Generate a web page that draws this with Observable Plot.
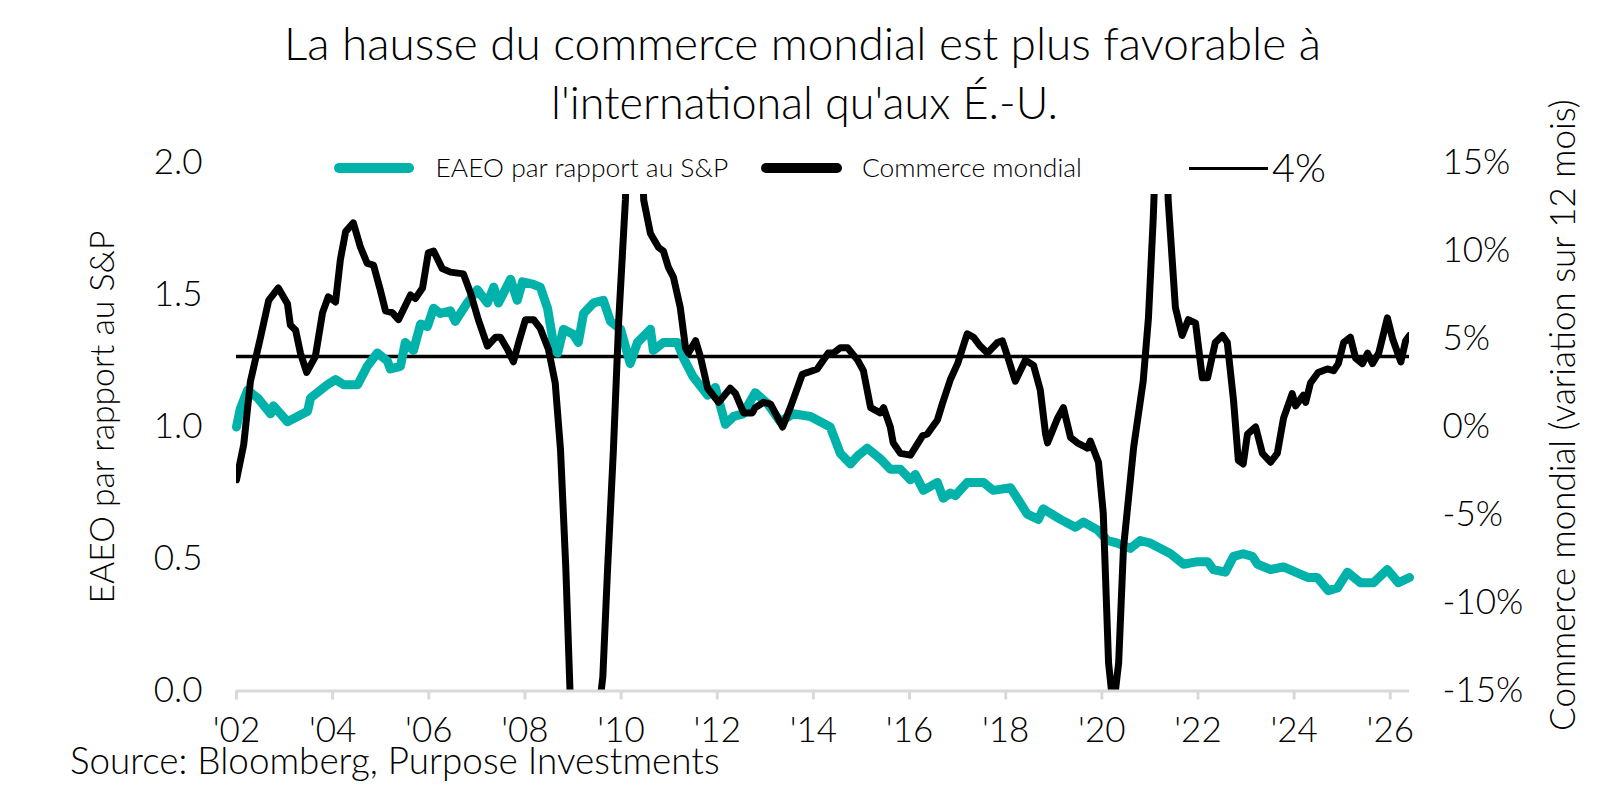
<!DOCTYPE html>
<html><head><meta charset="utf-8">
<script src="https://cdn.jsdelivr.net/npm/d3@7"></script>
<script src="https://cdn.jsdelivr.net/npm/@observablehq/plot@0.6"></script>
<style>
html,body{margin:0;padding:0;background:#fff;overflow:hidden;}
#wrap{position:relative;width:1603px;height:789px;overflow:hidden;font-family:Lato,"Open Sans",sans-serif;font-weight:300;color:#000;}
#wrap svg{position:absolute;left:0;top:0;}
#wrap svg text{font-weight:300;}
.t{position:absolute;white-space:nowrap;line-height:1;font-weight:300;color:#000;}
.sw{position:absolute;}
</style></head><body><div id="wrap"></div>
<script>
// ---------- data ----------
const titleLines = ["La hausse du commerce mondial est plus favorable à", "l'international qu'aux É.-U."];
const legendLabels = ["EAEO par rapport au S&P", "Commerce mondial", "4%"];
const leftAxisLabel = "EAEO par rapport au S&P";
const rightAxisLabel = "Commerce mondial (variation sur 12 mois)";
const sourceText = "Source: Bloomberg, Purpose Investments";

const xTicks = [2002,2004,2006,2008,2010,2012,2014,2016,2018,2020,2022,2024,2026];
const leftTicks = [0, 0.5, 1.0, 1.5, 2.0];
const rightTicks = [-15, -10, -5, 0, 5, 10, 15];
const thresholdPct = 4;

const eaeoYears = [2002.00,2002.08,2002.23,2002.44,2002.71,2002.77,2003.06,2003.48,2003.54,2003.75,2003.89,2004.06,2004.23,2004.52,2004.72,2004.93,2005.14,2005.20,2005.41,2005.51,2005.68,2005.83,2005.97,2006.10,2006.24,2006.45,2006.55,2006.80,2007.01,2007.22,2007.35,2007.45,2007.70,2007.84,2007.95,2008.18,2008.32,2008.47,2008.59,2008.68,2008.80,2009.01,2009.11,2009.22,2009.43,2009.63,2009.78,2009.99,2010.19,2010.34,2010.61,2010.67,2010.88,2011.17,2011.30,2011.50,2011.80,2011.96,2012.17,2012.34,2012.54,2012.79,2013.04,2013.31,2013.58,2013.94,2014.35,2014.56,2014.77,2014.92,2015.12,2015.39,2015.60,2015.81,2016.02,2016.12,2016.29,2016.58,2016.70,2016.85,2016.95,2017.20,2017.54,2017.74,2018.10,2018.24,2018.45,2018.68,2018.78,2019.14,2019.45,2019.62,2019.91,2020.12,2020.32,2020.59,2020.80,2021.01,2021.22,2021.43,2021.70,2021.99,2022.20,2022.32,2022.57,2022.74,2022.94,2023.13,2023.24,2023.51,2023.78,2024.03,2024.28,2024.48,2024.71,2024.90,2025.11,2025.38,2025.65,2025.94,2026.17,2026.40];
const eaeoValues = [1.00,1.07,1.14,1.11,1.05,1.08,1.02,1.06,1.11,1.14,1.16,1.18,1.16,1.16,1.23,1.28,1.25,1.22,1.23,1.32,1.29,1.39,1.38,1.45,1.43,1.44,1.40,1.47,1.52,1.47,1.53,1.47,1.56,1.48,1.55,1.54,1.53,1.45,1.32,1.28,1.37,1.35,1.32,1.43,1.47,1.48,1.40,1.37,1.24,1.32,1.37,1.29,1.32,1.32,1.26,1.19,1.12,1.15,1.01,1.04,1.05,1.13,1.09,1.02,1.05,1.04,1.00,0.90,0.86,0.89,0.92,0.88,0.84,0.84,0.80,0.82,0.76,0.79,0.73,0.75,0.74,0.79,0.79,0.76,0.77,0.73,0.67,0.65,0.69,0.65,0.62,0.64,0.61,0.57,0.56,0.54,0.57,0.56,0.54,0.52,0.48,0.49,0.49,0.46,0.45,0.51,0.52,0.51,0.48,0.46,0.47,0.45,0.43,0.43,0.38,0.39,0.45,0.41,0.41,0.46,0.41,0.43];

const tradeYears = [2002.00,2002.15,2002.29,2002.50,2002.67,2002.87,2003.06,2003.12,2003.23,2003.33,2003.46,2003.64,2003.79,2003.91,2004.06,2004.16,2004.27,2004.43,2004.58,2004.72,2004.85,2004.99,2005.10,2005.24,2005.37,2005.62,2005.72,2005.87,2005.99,2006.10,2006.28,2006.45,2006.72,2006.87,2007.03,2007.22,2007.39,2007.49,2007.64,2007.76,2007.87,2008.01,2008.18,2008.32,2008.49,2008.63,2008.74,2008.85,2008.95,2009.10,2009.30,2009.50,2009.62,2009.72,2009.84,2009.95,2010.09,2010.17,2010.30,2010.42,2010.47,2010.61,2010.78,2010.88,2010.98,2011.09,2011.23,2011.34,2011.40,2011.55,2011.65,2011.80,2012.03,2012.27,2012.38,2012.55,2012.73,2012.79,2012.96,2013.11,2013.36,2013.52,2013.77,2013.88,2014.08,2014.31,2014.42,2014.56,2014.71,2014.92,2015.04,2015.19,2015.39,2015.46,2015.60,2015.66,2015.81,2016.02,2016.27,2016.37,2016.58,2016.68,2016.85,2017.00,2017.20,2017.33,2017.47,2017.62,2017.83,2017.93,2018.04,2018.20,2018.41,2018.58,2018.72,2018.83,2018.87,2019.08,2019.20,2019.35,2019.49,2019.70,2019.76,2019.93,2020.03,2020.14,2020.24,2020.35,2020.45,2020.66,2020.86,2020.97,2021.07,2021.18,2021.25,2021.32,2021.38,2021.53,2021.67,2021.80,2021.95,2022.09,2022.20,2022.36,2022.51,2022.61,2022.74,2022.84,2022.94,2023.03,2023.20,2023.34,2023.51,2023.65,2023.78,2023.96,2024.03,2024.19,2024.24,2024.34,2024.50,2024.69,2024.82,2024.92,2025.03,2025.17,2025.28,2025.42,2025.53,2025.63,2025.76,2025.94,2026.05,2026.22,2026.32,2026.40];
const tradePct = [-3.0,-1.0,2.6,5.1,7.2,7.9,7.0,5.8,5.5,4.2,3.1,4.0,6.5,7.4,7.1,9.5,11.1,11.6,10.2,9.3,9.2,7.8,6.6,6.5,6.1,7.5,7.3,7.9,9.9,10.0,9.0,8.8,8.7,7.6,6.1,4.6,5.1,5.1,4.4,3.7,4.8,6.1,6.1,5.6,4.4,2.5,-1.3,-8.0,-16.0,-21.0,-22.0,-17.0,-14.2,-8.0,-1.3,6.0,12.9,20.0,23.0,18.0,12.9,11.0,10.2,10.0,9.1,8.5,6.8,4.5,4.2,4.9,4.0,2.2,1.4,2.2,1.9,0.8,0.8,1.1,1.4,1.3,0.0,1.1,3.0,3.1,3.3,4.2,4.2,4.5,4.5,3.8,3.2,1.1,0.8,1.1,0.0,-0.9,-1.5,-1.6,-0.5,-0.4,0.4,1.3,2.7,3.6,5.3,5.1,4.6,4.2,4.8,4.9,4.0,2.6,3.8,3.5,2.1,-0.4,-0.9,0.5,1.1,-0.6,-0.9,-1.2,-0.8,-2.0,-4.9,-13.4,-16.0,-13.4,-6.9,-1.2,2.6,6.2,11.9,20.0,26.0,20.0,12.9,6.8,5.2,6.1,5.9,2.8,2.8,4.8,5.2,4.8,1.5,-1.9,-2.1,-0.4,0.0,-1.5,-2.0,-1.5,0.5,1.9,1.2,1.8,1.4,2.5,3.1,3.3,3.2,3.6,4.8,5.1,3.9,3.6,4.2,3.6,4.2,6.2,5.0,3.7,4.9,5.2];

// ---------- build ----------
const pctToLeft = p => (p + 15) / 15;           // right axis (-15..15 %) mapped onto left axis (0..2)
const leftToPct = v => Math.round(v * 15 - 15);

const eaeo = eaeoYears.map((x, i) => ({x, y: eaeoValues[i]}));
const trade = tradeYears.map((x, i) => ({x, y: pctToLeft(tradePct[i])}));

const W = 1603, H = 789;
const M = {top: 162.5, bottom: 98.5, left: 236, right: 194};
const FONT = 35;
const TEAL = "#00b2a9";

const chart = Plot.plot({
  width: W, height: H,
  marginTop: M.top, marginBottom: M.bottom, marginLeft: M.left, marginRight: M.right,
  style: {fontFamily: "Lato, 'Open Sans', sans-serif", fontSize: FONT + "px", background: "transparent", color: "#000"},
  x: {domain: [2002, 2026.4]},
  y: {domain: [0, 2]},
  marks: [
    Plot.ruleY([pctToLeft(thresholdPct)], {stroke: "#000", strokeWidth: 3.5}),
    Plot.line(eaeo, {x: "x", y: "y", stroke: TEAL, strokeWidth: 9, strokeLinejoin: "round", strokeLinecap: "round"}),
    Plot.line(trade, {x: "x", y: "y", stroke: "#000", strokeWidth: 7, strokeLinejoin: "round", clip: true}),
    Plot.ruleY([0], {stroke: "#d9d9d9", strokeWidth: 3}),
    Plot.axisX({ticks: xTicks, tickSize: 9, stroke: "#d9d9d9", strokeWidth: 3, tickFormat: () => "", label: null}),
    Plot.axisX({ticks: xTicks, tickSize: 0, tickPadding: 26.5, fontSize: FONT, fill: "#000",
      tickFormat: d => "'" + String(d % 100).padStart(2, "0"), label: null}),
    Plot.axisY({ticks: leftTicks, tickSize: 0, tickPadding: 34, fontSize: FONT, fill: "#000",
      tickFormat: d3.format(".1f"), label: null}),
    Plot.axisY({anchor: "right", ticks: rightTicks.map(pctToLeft), tickSize: 0, tickPadding: 33, fontSize: FONT, fill: "#000",
      tickFormat: v => leftToPct(v) + "%", label: null}),
    Plot.text([leftAxisLabel], {frameAnchor: "left", textAnchor: "middle", lineAnchor: "middle", rotate: -90,
      dx: 103 - M.left, dy: -10, fontSize: 36, fill: "#000", className: "ylab-left"}),
    Plot.text([rightAxisLabel], {frameAnchor: "right", textAnchor: "middle", lineAnchor: "middle", rotate: -90,
      dx: 1563 - (W - M.right), dy: -12, fontSize: 36, fill: "#000", className: "ylab-right"})
  ]
});

const wrap = document.getElementById("wrap");
wrap.appendChild(chart);

// ---------- HTML title / legend / source ----------
const layout = [
  {text: titleLines[0], size: 48, w: 1037, cx: 802.5, cy: 44},
  {text: titleLines[1], size: 48, w: 507, cx: 804.5, cy: 104},
  {text: legendLabels[0], size: 26, w: 293, left: 435.5, cy: 168},
  {text: legendLabels[1], size: 26, w: 220, left: 862, cy: 168},
  {text: legendLabels[2], size: 35, w: 54, left: 1272, cy: 168},
  {text: sourceText, size: 32, w: 650, left: 70, cy: 761}
];
// white legend box (covers the clipped spikes, as in the original)
const legendBox = {x1: 318, x2: 1345, y1: 143, y2: 194};
const swatches = [
  {x1: 334, x2: 414, cy: 168, h: 10, color: TEAL, r: 5},
  {x1: 761, x2: 842, cy: 168, h: 10, color: "#000", r: 5},
  {x1: 1189, x2: 1268, cy: 168, h: 3, color: "#000", r: 0}
];
{
  const b = document.createElement("div");
  b.className = "sw";
  Object.assign(b.style, {left: legendBox.x1 + "px", top: legendBox.y1 + "px",
    width: (legendBox.x2 - legendBox.x1) + "px", height: (legendBox.y2 - legendBox.y1) + "px", background: "#fff"});
  wrap.appendChild(b);
}
swatches.forEach(s => {
  const d = document.createElement("div");
  d.className = "sw";
  Object.assign(d.style, {left: s.x1 + "px", top: (s.cy - s.h / 2) + "px", width: (s.x2 - s.x1) + "px",
    height: s.h + "px", background: s.color, borderRadius: s.r + "px"});
  wrap.appendChild(d);
});
const els = layout.map(L => {
  const d = document.createElement("div");
  d.className = "t";
  d.textContent = L.text;
  wrap.appendChild(d);
  return d;
});

function fit() {
  layout.forEach((L, i) => {
    const d = els[i];
    d.style.fontSize = L.size + "px";
    const w = d.getBoundingClientRect().width;
    const s = L.size * L.w / w;
    d.style.fontSize = s + "px";
    const w2 = d.getBoundingClientRect().width;
    d.style.left = (L.cx != null ? L.cx - w2 / 2 : L.left) + "px";
    d.style.top = (L.cy - 0.529 * s) + "px";
  });
  // fit rotated axis titles to their measured lengths
  [[".ylab-left text", 373], [".ylab-right text", 632]].forEach(([sel, len]) => {
    const t = chart.querySelector(sel);
    if (!t) return;
    t.setAttribute("font-size", 36);
    const l = t.getComputedTextLength();
    if (l > 0) t.setAttribute("font-size", 36 * len / l);
  });
}
fit();
if (document.fonts && document.fonts.ready) document.fonts.ready.then(fit);
</script>
</body></html>
